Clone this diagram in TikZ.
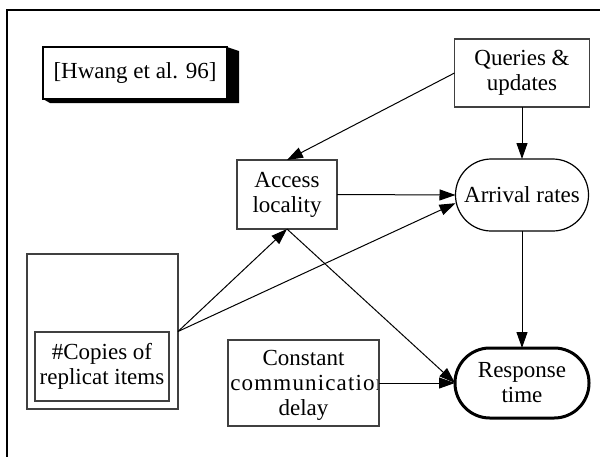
\documentclass[tikz,border=0pt]{standalone}
\usepackage{fontspec}
\setmainfont{Liberation Serif}
\usetikzlibrary{arrows.meta}

\begin{document}
\begin{tikzpicture}[x=0.5pt,y=-0.5pt,
    txt/.style={inner sep=0pt,font=\fontsize{11.5}{12.5}\selectfont},
    box/.style={txt,draw=black!75,line width=0.6pt,fill=white,outer sep=0pt,align=center},
    oval/.style={box,draw=black},
    link/.style={-{Triangle[length=8pt,width=5.5pt]},line width=0.5pt}]
  \useasboundingbox (0,0) rectangle (600,456);
  % Frame, running off the page at right and bottom
  \draw[line width=1.3pt] (7,10) rectangle (620,480);

  % Citation box with its solid block shadow
  \fill[black] (227,47) -- (239,51) -- (239,103) -- (50,103) -- (43,99) -- cycle;
  \node[box,draw=black,minimum width=92pt,minimum height=26pt] (hwang) at (135,73) {[Hwang et al. 96]};

  % Factors
  \node[box,minimum width=67.5pt,minimum height=34pt] (queries) at (522,73) {Queries \&\\updates};
  \node[box,minimum width=50pt,minimum height=34.5pt] (access) at (287,194.5) {Access\\locality};
  \node[box,minimum width=75.5pt,minimum height=77.5pt] (copies) at (102.5,331.5) {};
  \node[box,minimum width=67pt,minimum height=34.5pt] (copiesin) at (102,366.5) {\#Copies of\\replicat items};

  % Constant delay: the middle line runs past the box edge
  \node[box,draw=none,minimum width=75.5pt,minimum height=43pt] (constant) at (303.5,383) {};
  \begin{scope}
    \clip (constant.south west) rectangle ([xshift=-0.4pt]constant.north east);
    \node[txt,anchor=base] (constant-1) at (303.5,365) {Constant};
    \node[txt,anchor=base west] (constant-2) at (230,390) {\addfontfeature{LetterSpace=5}communication};
    \node[txt,anchor=base] (constant-3) at (303.5,415) {delay};
  \end{scope}
  \draw[black!75,line width=0.6pt] (constant.south west) rectangle (constant.north east);

  % Measures
  \node[oval,rounded corners=17.9pt,minimum width=66.5pt,minimum height=36pt] (arrival) at (522,195) {Arrival rates};
  \node[oval,line width=1.5pt,rounded corners=17.4pt,minimum width=67pt,minimum height=35pt] (response) at (522,383) {Response\\time};

  % Influences
  \draw[link] (queries.west) -- (access.north);
  \draw[link] (queries.south) -- (arrival.north);
  \draw[link] (access.east) -- (arrival.west);
  \draw[link] (copies.east) -- (access.south);
  \draw[link] (copies.east) -- (arrival.187);
  \draw[link] (access.south) -- (response.west);
  \draw[link] (constant.east) -- (response.west);
  \draw[link] (arrival.south) -- (response.north);
\end{tikzpicture}
\end{document}
